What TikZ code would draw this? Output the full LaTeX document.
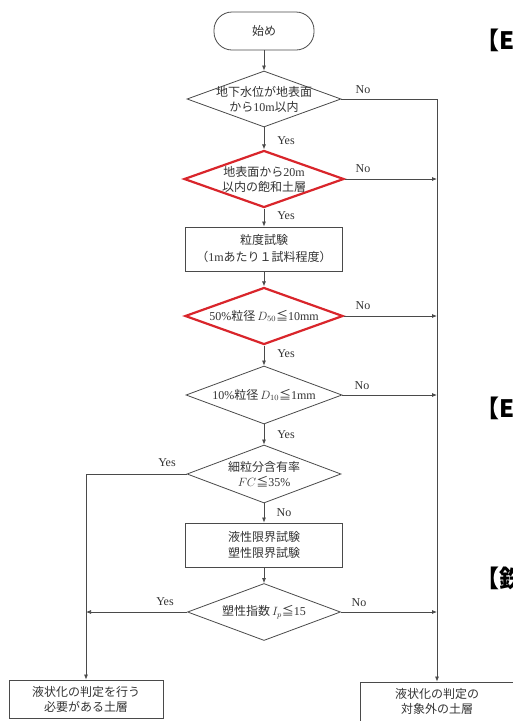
\documentclass[tikz,border=0pt]{standalone}
\usepackage{fontspec}
\setmainfont{Liberation Serif}
\newfontfamily\jp{Noto Sans CJK JP}
\usetikzlibrary{shapes.geometric,arrows.meta}
\definecolor{linec}{HTML}{4A4A4A}
\definecolor{redc}{HTML}{D9252B}
\definecolor{txtc}{HTML}{333333}
\begin{document}
\begin{tikzpicture}[x=1pt,y=-1pt,
  every node/.style={text=txtc, font=\fontsize{12}{15}\selectfont},
  ln/.style={draw=linec, line width=0.75pt},
  arr/.style={ln, -{Latex[length=5pt,width=4pt]}},
  dia/.style={diamond, draw=linec, line width=0.8pt, inner sep=0pt},
  reddia/.style={diamond, draw=redc, line width=2.2pt, inner sep=0pt},
  txt/.style={align=center, inner sep=0pt},
  boxx/.style={rectangle, draw=linec, line width=0.8pt, align=center, minimum width=157pt, minimum height=44pt, inner sep=0pt},
  term/.style={rectangle, draw=linec, line width=0.8pt, rounded corners=18pt, minimum width=100pt, minimum height=38pt},
  lab/.style={inner sep=0pt, font=\fontsize{12}{13}\selectfont},
  cut/.style={anchor=west, inner sep=0pt, text=black, font=\jp\bfseries\fontsize{24}{24}\selectfont}
]
\useasboundingbox (0,0) rectangle (513,721);
\clip (0,0) rectangle (513,721);
\fill[white] (0,0) rectangle (513,721);

% main column
\node[term] (s) at (264,31) {\jp 始め};
\node[dia, minimum width=154pt, minimum height=56pt] (d1) at (264,99) {};
\node[txt] (t1) at (d1) {{\jp 地下水位が地表面}\\{\jp から}10m{\jp 以内}};
\node[reddia, minimum width=160pt, minimum height=57pt] (d2) at (264,179) {};
\node[txt] (t2) at (d2) {{\jp 地表面から}20m\\{\jp 以内の飽和土層}};
\node[boxx] (b1) at (264,249) {{\jp 粒度試験}\\[2pt]{\jp （}1m{\jp あたり１試料程度）}};
\node[reddia, minimum width=158pt, minimum height=57pt] (d3) at (264,316) {};
\node[txt] (t3) at (d3) {50\%{\jp 粒径}\,$D_{50}${\jp ≦}10mm};
\node[dia, minimum width=156pt, minimum height=58pt] (d4) at (264,395) {};
\node[txt] (t4) at (d4) {10\%{\jp 粒径}\,$D_{10}${\jp ≦}1mm};
\node[dia, minimum width=154pt, minimum height=58pt] (d5) at (264,474) {};
\node[txt] (t5) at (d5) {{\jp 細粒分含有率}\\$FC${\jp ≦}35\%};
\node[boxx] (b2) at (264,545) {{\jp 液性限界試験}\\[1pt]{\jp 塑性限界試験}};
\node[dia, minimum width=153pt, minimum height=57pt] (d6) at (264,612) {};
\node[txt] (t6) at (d6) {{\jp 塑性指数}\,$I_p${\jp ≦}15};

% end boxes
\node[boxx, minimum width=154pt, minimum height=38pt] (bl) at (86,699) {{\jp 液状化の判定を行う}\\{\jp 必要がある土層}};
\node[rectangle, draw=linec, line width=0.8pt, minimum width=154pt, minimum height=42pt, inner sep=0pt] (br) at (437,703) {};
\node[txt] (tbr) at (437,701) {{\jp 液状化の判定の}\\{\jp 対象外の土層}};

\coordinate (c1) at (bl.north |- d5.west);
\coordinate (c2) at (bl.north |- d6.west);
\coordinate (c3) at (br.north |- d1.east);
\coordinate (r2) at (br.north |- d2.east);
\coordinate (r3) at (br.north |- d3.east);
\coordinate (r4) at (br.north |- d4.east);
\coordinate (r6) at (br.north |- d6.east);

% vertical flow
\draw[arr] (s) -- (d1.north);
\draw[arr] (d1.south) -- (d2.north);
\draw[arr] (d2.south) -- (b1.north);
\draw[arr] (b1.south) -- (d3.north);
\draw[arr] (d3.south) -- (d4.north);
\draw[arr] (d4.south) -- (d5.north);
\draw[arr] (d5.south) -- (b2.north);
\draw[arr] (b2.south) -- (d6.north);

% left branch
\draw[arr] (d5.west) -- (c1) -- (bl.north);
\draw[arr] (d6.west) -- (c2);

% right branch
\draw[arr] (d1.east) -- (c3) -- (br.north);
\draw[arr] (d2.east) -- (r2);
\draw[arr] (d3.east) -- (r3);
\draw[arr] (d4.east) -- (r4);
\draw[arr] (d6.east) -- (r6);

% labels
\node[lab] (y1) at (286,141) {Yes};
\node[lab] (y2) at (286,216) {Yes};
\node[lab] (y3) at (286,354) {Yes};
\node[lab] (y4) at (286,435) {Yes};
\node[lab] (n5) at (284,513) {No};
\node[lab] (y5) at (167,463) {Yes};
\node[lab] (y6) at (165,602) {Yes};
\node[lab] (n1) at (363,90) {No};
\node[lab] (n2) at (363,169) {No};
\node[lab] (n3) at (363,306) {No};
\node[lab] (n4) at (362,386) {No};
\node[lab] (n6) at (359,603) {No};

% cut-off text at right edge
\node[cut] (e1) at (475,40) {【E};
\node[cut] (e2) at (475,408) {【E};
\node[cut] (e3) at (475,578) {【鉄};
\end{tikzpicture}
\end{document}
